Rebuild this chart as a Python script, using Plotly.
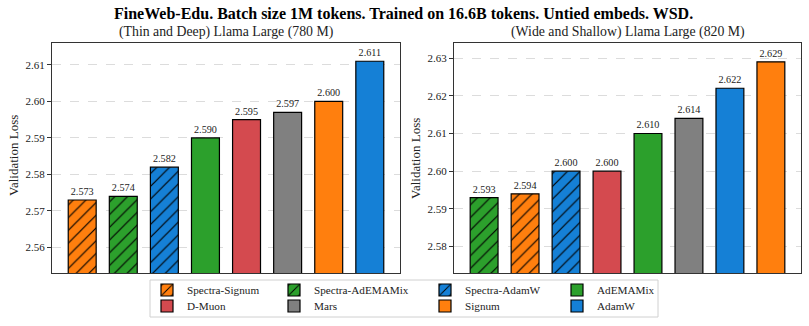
import plotly.graph_objects as go

# ---------------- data ----------------
left_methods = ["Spectra-Signum", "Spectra-AdEMAMix", "Spectra-AdamW", "AdEMAMix",
                "D-Muon", "Mars", "Signum", "AdamW"]
left_values = [2.573, 2.574, 2.582, 2.590, 2.595, 2.597, 2.600, 2.611]

right_methods = ["Spectra-AdEMAMix", "Spectra-Signum", "Spectra-AdamW", "D-Muon",
                 "AdEMAMix", "Mars", "AdamW", "Signum"]
right_values = [2.593, 2.594, 2.600, 2.600, 2.610, 2.614, 2.622, 2.629]

left_ticks = [2.56, 2.57, 2.58, 2.59, 2.60, 2.61]
right_ticks = [2.58, 2.59, 2.60, 2.61, 2.62, 2.63]

legend_order = ["Spectra-Signum", "Spectra-AdEMAMix", "Spectra-AdamW", "AdEMAMix",
                "D-Muon", "Mars", "Signum", "AdamW"]

title = "FineWeb-Edu. Batch size 1M tokens. Trained on 16.6B tokens. Untied embeds. WSD."
left_title = "(Thin and Deep) Llama Large (780 M)"
right_title = "(Wide and Shallow) Llama Large (820 M)"

# ---------------- styles ----------------
colors = {
    "Spectra-Signum": "#ff7f0e",
    "Spectra-AdEMAMix": "#2ca02c",
    "Spectra-AdamW": "#1580d6",
    "AdEMAMix": "#2ca02c",
    "D-Muon": "#d44a4f",
    "Mars": "#808080",
    "Signum": "#ff7f0e",
    "AdamW": "#1580d6",
}
hatched = {"Spectra-Signum", "Spectra-AdEMAMix", "Spectra-AdamW"}

W, H = 809, 326
FONT = "Liberation Serif"

# pixel layout
ax_top, ax_bot = 43, 273
left_px = (52, 400)
right_px = (454, 801)

def px_x(p):
    return p / W

def px_y(p):
    return (H - p) / H

fig = go.Figure()

legend_names = {}
for i, m in enumerate(legend_order):
    legend_names[m] = "legend" if i == 0 else f"legend{i+1}"

def add_panel(methods, values, xa, ya, show):
    for m, v in zip(methods, values):
        c = colors[m]
        marker = dict(color=c, line=dict(color="black", width=1.2))
        if m in hatched:
            marker["pattern"] = dict(shape="/", fgcolor="black", bgcolor=c,
                                     size=9, solidity=0.13, fillmode="replace")
        fig.add_trace(go.Bar(
            x=[m], y=[v], width=0.68, name=m, marker=marker,
            xaxis=xa, yaxis=ya, showlegend=show, legend=legend_names[m],
            text=[f"{v:.3f}"], textposition="outside", cliponaxis=False,
            textfont=dict(family=FONT, size=10.2, color="#222"),
            hoverinfo="x+y",
        ))

add_panel(left_methods, left_values, "x", "y", True)
add_panel(right_methods, right_values, "x2", "y2", False)

axis_common = dict(showline=True, mirror=True, linecolor="#333", linewidth=1)

def yrange(vals):
    return [min(vals) - 0.02, max(vals) + 0.005]

fig.update_layout(
    width=W, height=H,
    margin=dict(l=0, r=0, t=0, b=0),
    paper_bgcolor="white", plot_bgcolor="white",
    barmode="overlay",
    font=dict(family=FONT, color="#222"),
    xaxis=dict(domain=[px_x(left_px[0]), px_x(left_px[1])], range=[-0.735, 7.735],
               showticklabels=False, ticks="", showgrid=False,
               categoryorder="array", categoryarray=left_methods, **axis_common),
    yaxis=dict(domain=[px_y(ax_bot), px_y(ax_top)], range=yrange(left_values),
               tickvals=left_ticks, tickformat=".2f", ticks="outside", ticklen=4,
               tickcolor="#333", tickfont=dict(size=11, family=FONT),
               showgrid=True, gridcolor="#dcdcdc", griddash="dash", gridwidth=0.8,
               zeroline=False, **axis_common),
    xaxis2=dict(domain=[px_x(right_px[0]), px_x(right_px[1])], range=[-0.735, 7.735],
                showticklabels=False, ticks="", showgrid=False, anchor="y2",
                categoryorder="array", categoryarray=right_methods, **axis_common),
    yaxis2=dict(domain=[px_y(ax_bot), px_y(ax_top)], range=yrange(right_values),
                anchor="x2",
                tickvals=right_ticks, tickformat=".2f", ticks="outside", ticklen=4,
                tickcolor="#333", tickfont=dict(size=11, family=FONT),
                showgrid=True, gridcolor="#dcdcdc", griddash="dash", gridwidth=0.8,
                zeroline=False, **axis_common),
)

# legends: 4 columns x 2 rows, each item its own legend
col_text_x = [187, 314, 465, 597]
row_y = [290, 306]
for i, m in enumerate(legend_order):
    r, c = divmod(i, 4)
    key = legend_names[m]
    fig.layout[key] = dict(
        x=px_x(col_text_x[c] - 40), xanchor="left",
        y=px_y(row_y[r]), yanchor="middle",
        bgcolor="rgba(0,0,0,0)", borderwidth=0,
        font=dict(family=FONT, size=11.2, color="#222"),
        orientation="v", itemclick=False, itemdoubleclick=False,
    )

# legend frame
fig.add_shape(type="rect", xref="paper", yref="paper",
              x0=px_x(150), x1=px_x(658), y0=px_y(317), y1=px_y(280),
              line=dict(color="#d0d0d0", width=1), fillcolor="rgba(0,0,0,0)",
              layer="below")

# titles
fig.add_annotation(text=f"<b>{title}</b>", x=px_x(403), y=px_y(14), xref="paper", yref="paper",
                   showarrow=False, font=dict(family=FONT, size=16, color="black"),
                   xanchor="center", yanchor="middle")
fig.add_annotation(text=left_title, x=px_x((left_px[0] + left_px[1]) / 2), y=px_y(32),
                   xref="paper", yref="paper", showarrow=False,
                   font=dict(family=FONT, size=13.8, color="#222"),
                   xanchor="center", yanchor="middle")
fig.add_annotation(text=right_title, x=px_x((right_px[0] + right_px[1]) / 2), y=px_y(32),
                   xref="paper", yref="paper", showarrow=False,
                   font=dict(family=FONT, size=13.8, color="#222"),
                   xanchor="center", yanchor="middle")
for xc, yc in ((13, 156), (415, 158)):
    fig.add_annotation(text="Validation Loss", x=px_x(xc), y=px_y(yc),
                       xref="paper", yref="paper", showarrow=False, textangle=-90,
                       font=dict(family=FONT, size=13, color="#222"),
                       xanchor="center", yanchor="middle")

fig.write_html("out.html")
